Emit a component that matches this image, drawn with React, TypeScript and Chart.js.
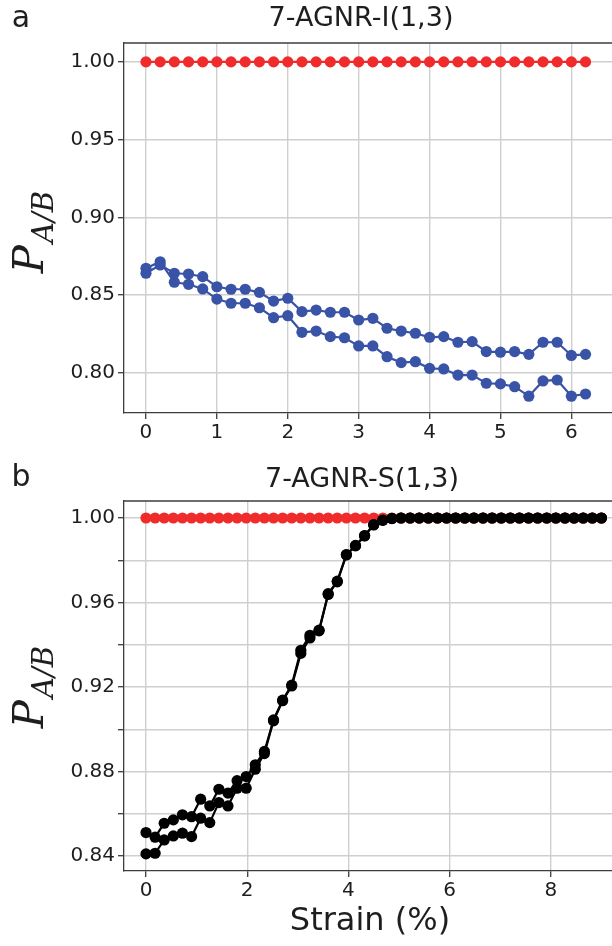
import React, { useEffect, useRef } from 'react';
import { Chart, registerables } from 'chart.js';

Chart.register(...registerables);

// ---------- Panel a : 7-AGNR-I(1,3) ----------
const strainA = [0, 0.2, 0.4, 0.6, 0.8, 1.0, 1.2, 1.4, 1.6, 1.8, 2.0, 2.2, 2.4, 2.6, 2.8, 3.0,
  3.2, 3.4, 3.6, 3.8, 4.0, 4.2, 4.4, 4.6, 4.8, 5.0, 5.2, 5.4, 5.6, 5.8, 6.0, 6.2];
const redA = [1, 1, 1, 1, 1, 1, 1, 1, 1, 1, 1, 1, 1, 1, 1, 1,
  1, 1, 1, 1, 1, 1, 1, 1, 1, 1, 1, 1, 1, 1, 1, 1];
const blueUpperA = [0.864, 0.8693, 0.864, 0.8635, 0.8618, 0.8553, 0.8537, 0.8537, 0.8517, 0.8461,
  0.8479, 0.8393, 0.8403, 0.8389, 0.8389, 0.8339, 0.835, 0.8286, 0.8268, 0.8254, 0.8228, 0.8232,
  0.8196, 0.82, 0.8136, 0.8132, 0.8136, 0.8118, 0.8196, 0.8196, 0.8111, 0.8118];
const blueLowerA = [0.8672, 0.8714, 0.8582, 0.8569, 0.8539, 0.8474, 0.8447, 0.8447, 0.8418, 0.8354,
  0.8367, 0.826, 0.8268, 0.8232, 0.8225, 0.8172, 0.8172, 0.8103, 0.8065, 0.8071, 0.8028, 0.8024,
  0.7985, 0.7985, 0.7932, 0.7928, 0.791, 0.7849, 0.7947, 0.7953, 0.7849, 0.7863];
const xTicksA = [0, 1, 2, 3, 4, 5, 6];
const yTicksA = [0.8, 0.85, 0.9, 0.95, 1.0];

// ---------- Panel b : 7-AGNR-S(1,3) ----------
const strainB = [0, 0.18, 0.36, 0.54, 0.72, 0.9, 1.08, 1.26, 1.44, 1.62, 1.8, 1.98, 2.16, 2.34,
  2.52, 2.7, 2.88, 3.06, 3.24, 3.42, 3.6, 3.78, 3.96, 4.14, 4.32, 4.5, 4.68, 4.86, 5.04, 5.22,
  5.4, 5.58, 5.76, 5.94, 6.12, 6.3, 6.48, 6.66, 6.84, 7.02, 7.2, 7.38, 7.56, 7.74, 7.92, 8.1,
  8.28, 8.46, 8.64, 8.82, 9.0];
const redB = [1, 1, 1, 1, 1, 1, 1, 1, 1, 1, 1, 1, 1, 1, 1, 1, 1, 1, 1, 1, 1, 1, 1, 1, 1, 1,
  1, 1, 1, 1, 1, 1, 1, 1, 1, 1, 1, 1, 1, 1, 1, 1, 1, 1, 1, 1, 1, 1, 1, 1, 1];
const blackUpperB = [0.8511, 0.8489, 0.8555, 0.8571, 0.8595, 0.8586, 0.8669, 0.8637, 0.8716, 0.8698,
  0.8757, 0.8776, 0.8832, 0.8895, 0.9044, 0.9138, 0.9209, 0.9374, 0.9445, 0.9469, 0.9642, 0.9701,
  0.9827, 0.987, 0.9917, 0.9969, 0.999, 0.9998, 1, 1, 1, 1, 1, 1, 1, 1, 1, 1, 1, 1, 1, 1, 1, 1,
  1, 1, 1, 1, 1, 1, 1];
const blackLowerB = [0.841, 0.8413, 0.8476, 0.8495, 0.8508, 0.8492, 0.8579, 0.8558, 0.8653, 0.8637,
  0.8721, 0.8721, 0.8811, 0.8885, 0.904, 0.9135, 0.9205, 0.9359, 0.9432, 0.9466, 0.9638, 0.9698,
  0.9825, 0.9868, 0.9915, 0.9967, 0.9989, 0.9997, 1, 1, 1, 1, 1, 1, 1, 1, 1, 1, 1, 1, 1, 1, 1, 1,
  1, 1, 1, 1, 1, 1, 1];
const xTicksB = [0, 2, 4, 6, 8];
const yTicksB = [0.84, 0.86, 0.88, 0.9, 0.92, 0.94, 0.96, 0.98, 1.0];
const yLabelsB = [0.84, 0.88, 0.92, 0.96, 1.0];

const RED = '#ef2b2b';
const BLUE = '#3953a6';
const BLACK = '#000000';
const GRID = '#cfcfcf';
const SPINE = '#3c3c3c';
const TEXT = '#1e1e1e';

const CANVAS_W = 640;

function series(xs: number[], ys: number[], color: string) {
  return {
    data: xs.map((x, i) => ({ x, y: ys[i] })),
    borderColor: color,
    backgroundColor: color,
    pointBackgroundColor: color,
    pointBorderColor: color,
    pointBorderWidth: 0,
    pointRadius: 5.6,
    borderWidth: 2.2,
    tension: 0,
  };
}

type Deco = {
  title: string; titleX: number; titleY: number;
  letter: string; letterX: number; letterY: number;
  yLabelX: number; yLabelY: number;
  xLabel?: string; xLabelX?: number; xLabelY?: number;
};

function decoPlugin(d: Deco) {
  return {
    id: 'deco',
    afterDraw(chart: any) {
      const { ctx, chartArea } = chart;
      ctx.save();
      ctx.strokeStyle = SPINE;
      ctx.lineWidth = 1.3;
      ctx.beginPath();
      ctx.moveTo(chartArea.left, chartArea.top);
      ctx.lineTo(chartArea.right, chartArea.top);
      ctx.stroke();

      ctx.fillStyle = TEXT;
      ctx.textAlign = 'center';
      ctx.textBaseline = 'middle';
      ctx.font = '27px "DejaVu Sans"';
      ctx.fillText(d.title, d.titleX, d.titleY);
      ctx.font = '30px "DejaVu Sans"';
      ctx.fillText(d.letter, d.letterX, d.letterY);
      if (d.xLabel) {
        ctx.font = '32px "DejaVu Sans"';
        ctx.fillText(d.xLabel, d.xLabelX, d.xLabelY);
      }

      ctx.translate(d.yLabelX, d.yLabelY);
      ctx.rotate(-Math.PI / 2);
      ctx.textAlign = 'left';
      ctx.textBaseline = 'alphabetic';
      const bigFont = 'italic 42px "DejaVu Serif"';
      const subFont = 'italic 29px "DejaVu Serif"';
      ctx.font = bigFont;
      const wP = ctx.measureText('P').width;
      ctx.font = subFont;
      const wS = ctx.measureText('A/B').width;
      const total = wP + 2 + wS;
      ctx.font = bigFont;
      ctx.fillText('P', -total / 2, 0);
      ctx.font = subFont;
      ctx.fillText('A/B', -total / 2 + wP + 2, 10);
      ctx.restore();
    },
  };
}

type PanelSpec = {
  height: number;
  padTop: number;
  xAxisHeight: number;
  xMin: number; xMax: number; yMin: number; yMax: number;
  xTicks: number[]; yTicks: number[]; yLabels: number[];
  datasets: any[];
  deco: Deco;
};

function makeConfig(p: PanelSpec): any {
  const tickFont = { family: 'DejaVu Sans', size: 20 };
  return {
    type: 'line',
    data: { datasets: p.datasets },
    options: {
      animation: false,
      responsive: false,
      devicePixelRatio: 1,
      events: [],
      layout: { padding: { top: p.padTop, right: 10, bottom: 0, left: 0 } },
      plugins: { legend: { display: false }, tooltip: { enabled: false }, title: { display: false } },
      scales: {
        x: {
          type: 'linear',
          min: p.xMin,
          max: p.xMax,
          afterBuildTicks: (axis: any) => { axis.ticks = p.xTicks.map((v) => ({ value: v })); },
          afterFit: (scale: any) => { scale.height = p.xAxisHeight; },
          ticks: {
            font: tickFont,
            color: TEXT,
            padding: 2,
            maxRotation: 0,
            autoSkip: false,
            callback: (v: any) => String(Math.round(Number(v))),
          },
          grid: { color: GRID, lineWidth: 1.4, drawTicks: true, tickLength: 6, tickColor: SPINE, tickWidth: 1.3 },
          border: { display: true, color: SPINE, width: 1.3 },
        },
        y: {
          type: 'linear',
          min: p.yMin,
          max: p.yMax,
          afterBuildTicks: (axis: any) => { axis.ticks = p.yTicks.map((v) => ({ value: v })); },
          afterFit: (scale: any) => { scale.width = 124; },
          ticks: {
            font: tickFont,
            color: TEXT,
            padding: 3,
            autoSkip: false,
            callback: (v: any) => {
              const n = Number(v);
              return p.yLabels.some((l) => Math.abs(l - n) < 1e-6) ? n.toFixed(2) : '';
            },
          },
          grid: { color: GRID, lineWidth: 1.4, drawTicks: true, tickLength: 6, tickColor: SPINE, tickWidth: 1.3 },
          border: { display: true, color: SPINE, width: 1.3 },
        },
      },
    },
    plugins: [decoPlugin(p.deco)],
  };
}

const panelA: PanelSpec = {
  height: 450,
  padTop: 43,
  xAxisHeight: 37,
  xMin: -0.31, xMax: 6.827, yMin: 0.77407, yMax: 1.01216,
  xTicks: xTicksA, yTicks: yTicksA, yLabels: yTicksA,
  datasets: [
    series(strainA, redA, RED),
    series(strainA, blueUpperA, BLUE),
    series(strainA, blueLowerA, BLUE),
  ],
  deco: {
    title: '7-AGNR-I(1,3)', titleX: 361, titleY: 19,
    letter: 'a', letterX: 21, letterY: 19,
    yLabelX: 43, yLabelY: 232,
  },
};

const panelB: PanelSpec = {
  height: 496,
  padTop: 51,
  xAxisHeight: 75,
  xMin: -0.4348, xMax: 9.565, yMin: 0.8329, yMax: 1.00805,
  xTicks: xTicksB, yTicks: yTicksB, yLabels: yLabelsB,
  datasets: [
    series(strainB, blackUpperB, BLACK),
    series(strainB, blackLowerB, BLACK),
    series(strainB, redB, RED),
  ],
  deco: {
    title: '7-AGNR-S(1,3)', titleX: 362, titleY: 30,
    letter: 'b', letterX: 21, letterY: 28,
    yLabelX: 43, yLabelY: 237,
    xLabel: 'Strain (%)', xLabelX: 370, xLabelY: 472,
  },
};

function Panel({ spec, top }: { spec: PanelSpec; top: number }) {
  const ref = useRef<HTMLCanvasElement>(null);
  useEffect(() => {
    if (!ref.current) return;
    const chart = new Chart(ref.current, makeConfig(spec));
    return () => chart.destroy();
  }, [spec]);
  return (
    <canvas
      ref={ref}
      width={CANVAS_W}
      height={spec.height}
      style={{ position: 'absolute', left: 0, top, width: CANVAS_W, height: spec.height }}
    />
  );
}

export default function App() {
  return (
    <div
      style={{
        position: 'absolute', left: 0, top: 0, width: 612, height: 946,
        overflow: 'hidden', background: '#ffffff',
      }}
    >
      <Panel spec={panelA} top={0} />
      <Panel spec={panelB} top={450} />
    </div>
  );
}
